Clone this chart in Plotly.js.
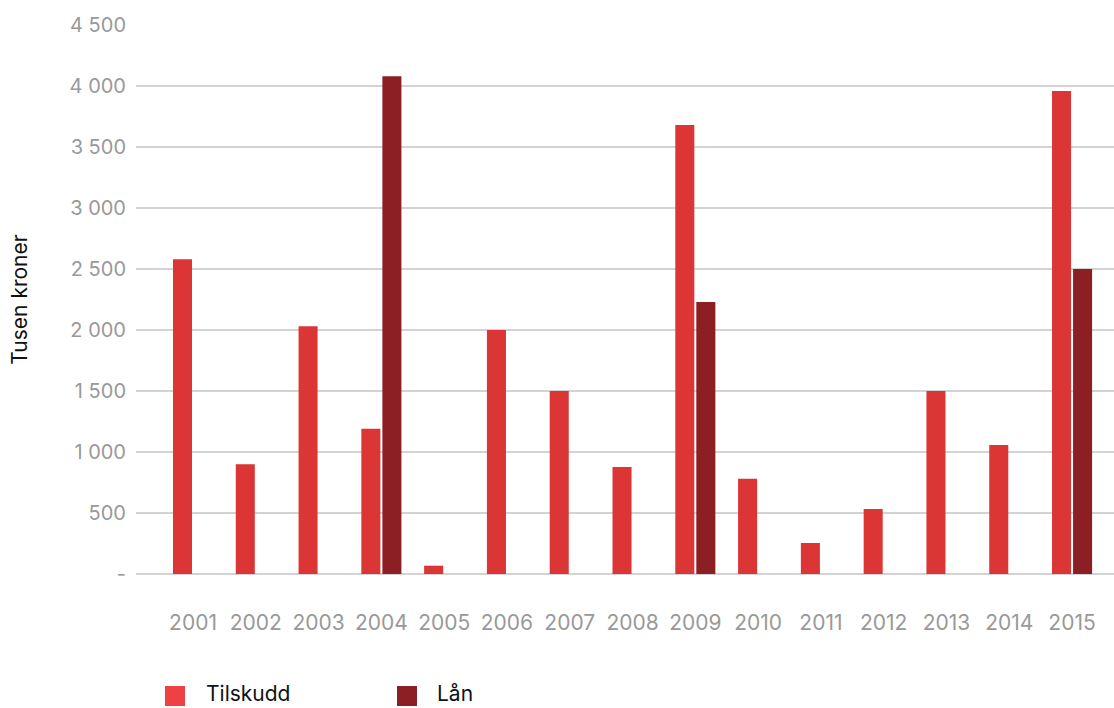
<!DOCTYPE html>
<html><head><meta charset="utf-8">
<script src="https://cdn.plot.ly/plotly-3.0.1.min.js"></script>
<style>html,body{margin:0;padding:0;background:#fff}#chart{width:1114px;height:708px}</style>
</head><body><div id="chart"></div>
<script>
const years = ["2001","2002","2003","2004","2005","2006","2007","2008","2009","2010","2011","2012","2013","2014","2015"];
const tilskudd = [2580, 900, 2030, 1190, 68, 2000, 1500, 877, 3680, 780, 254, 533, 1500, 1057, 3960];
const laan = [null, null, null, 4080, null, null, null, null, 2230, null, null, null, null, null, 2500];
const seriesNames = ["Tilskudd", "Lån"];
const yTickVals = [0, 500, 1000, 1500, 2000, 2500, 3000, 3500, 4000, 4500];
const yTickText = ["-", "500", "1 000", "1 500", "2 000", "2 500", "3 000", "3 500", "4 000", "4 500"];
const yTitle = "Tusen kroner";

const colT = "#db3535", colL = "#8c1f24", colTLegend = "#ef4044";
const font = "Inter, 'Liberation Sans', Arial, sans-serif";

const data = [
  {type:"bar", name:seriesNames[0], x:years, y:tilskudd, marker:{color:colT}, showlegend:false, hoverinfo:"x+y"},
  {type:"bar", name:seriesNames[1], x:years, y:laan, marker:{color:colL}, showlegend:false, hoverinfo:"x+y"}
];

const layout = {
  width:1114, height:708,
  margin:{l:136, r:0, t:25, b:134},
  paper_bgcolor:"#fff", plot_bgcolor:"#fff",
  barmode:"group", bargap:0.33, bargroupgap:0.095,
  font:{family:font, size:19, color:"#999"},
  xaxis:{type:"category", range:[-0.908, 14.668], showgrid:false, zeroline:false, showline:false,
         ticks:"", ticklabelstandoff:34, tickfont:{size:21, color:"#999"}},
  yaxis:{range:[0, 4500], tickvals:yTickVals, ticktext:yTickText, showgrid:true, gridcolor:"#d3d3d3", gridwidth:2,
         zeroline:true, zerolinecolor:"#d3d3d3", zerolinewidth:2, showline:false, ticks:"",
         ticklabelstandoff:9, tickfont:{size:20, color:"#999"},
         title:{text:yTitle, font:{size:21, color:"#111"}, standoff:36}},
  shapes:[
    {type:"rect", xref:"paper", yref:"paper", x0:(165-136)/978, x1:(185-136)/978, y0:-(686-574)/549, y1:-(706-574)/549, fillcolor:colTLegend, line:{width:0}},
    {type:"rect", xref:"paper", yref:"paper", x0:(397-136)/978, x1:(417-136)/978, y0:-(686-574)/549, y1:-(706-574)/549, fillcolor:colL, line:{width:0}}
  ],
  annotations:[
    {xref:"paper", yref:"paper", x:(205-136)/978, y:-(693-574)/549, xanchor:"left", yanchor:"middle", text:seriesNames[0], showarrow:false, borderpad:0, font:{size:21, color:"#111"}},
    {xref:"paper", yref:"paper", x:(436-136)/978, y:-(693-574)/549, xanchor:"left", yanchor:"middle", text:seriesNames[1], showarrow:false, borderpad:0, font:{size:21, color:"#111"}}
  ]
};
Plotly.newPlot("chart", data, layout, {displayModeBar:false, staticPlot:true});
</script></body></html>
